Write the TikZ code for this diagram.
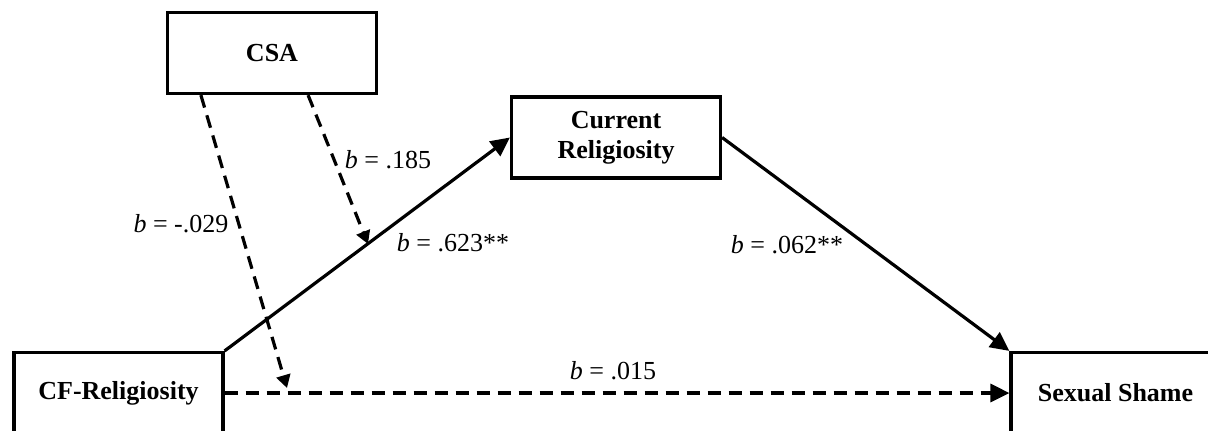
\documentclass[tikz,border=0pt]{standalone}
\usepackage{fontspec}
\setmainfont{Liberation Serif}
\usetikzlibrary{arrows.meta,calc}
\begin{document}
\begin{tikzpicture}[x=0.5pt,y=-0.5pt,
  varbox/.style={draw,line width=1.6pt,minimum width=104.5pt,minimum height=40.5pt,
    inner sep=0pt,align=center,font=\fontsize{13}{15}\selectfont\bfseries},
  coef/.style={font=\fontsize{13}{15}\selectfont,inner sep=0pt},
  path/.style={line width=1.6pt,-{Triangle[length=9.5pt,width=9pt]}},
  dpath/.style={path,dash pattern=on 6.5pt off 4pt},
  modpath/.style={line width=1.6pt,dash pattern=on 6.5pt off 4pt,-{Triangle[length=6.5pt,width=7pt]}}]
\useasboundingbox (0,0) rectangle (1208,430);
\clip (0,0) rectangle (1208,430);
% variables
\node[varbox] (csa) at (272,53) {CSA};
\node[varbox] (cr) at (616,137.5) {Current\\Religiosity};
\node[varbox] (cf) at (118.5,393) {CF-Religiosity};
\node[varbox] (ss) at (1115.5,393) {Sexual Shame};
% main paths
\draw[path] (cf.north east) -- (cr.west);
\draw[path] (cr.east) -- (ss.north west);
\draw[dpath] (cf.east) -- (ss.west);
% moderation paths from CSA
\coordinate (m1) at (287,388);
\coordinate (m2) at (368,244);
\draw[modpath] ($(csa.south west)+(35,0)$) -- (m1);
\draw[modpath] ($(csa.south east)+(-70,0)$) -- (m2);
% coefficients
\node[coef] (l185) at (388,160) {\textit{b} = .185};
\node[coef] (l029) at (181,224) {\textit{b} = -.029};
\node[coef] (l623) at (453,243) {\textit{b} = .623**};
\node[coef] (l062) at (787,245) {\textit{b} = .062**};
\node[coef] (l015) at (613,371) {\textit{b} = .015};
\end{tikzpicture}
\end{document}
